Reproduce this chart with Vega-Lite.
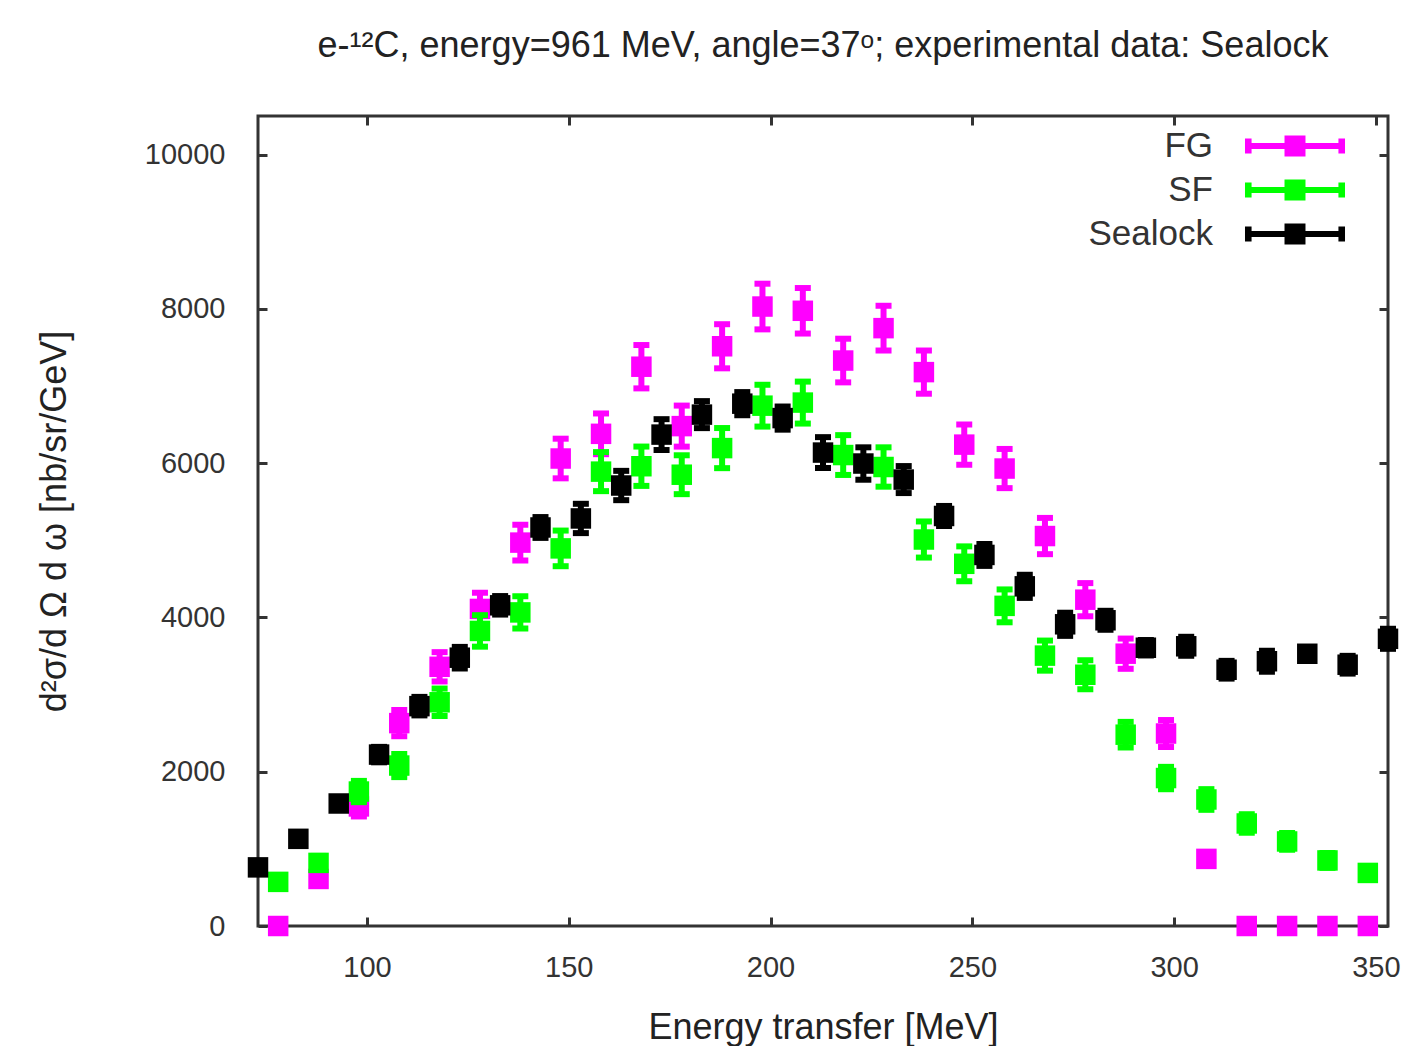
{
  "$schema": "https://vega.github.io/schema/vega-lite/v6.json",
  "width": 1130,
  "height": 810,
  "autosize": {"type": "none"},
  "padding": {"left": 258, "top": 116, "right": 20, "bottom": 120},
  "background": "white",
  "title": {
    "text": "e-¹²C, energy=961 MeV, angle=37ᵒ; experimental data: Sealock",
    "fontSize": 36,
    "font": "Liberation Sans",
    "fontWeight": "normal",
    "color": "#222222",
    "anchor": "middle",
    "baseline": "alphabetic",
    "offset": 22
  },
  "config": {
    "font": "Liberation Sans",
    "view": {"stroke": "#333333", "strokeWidth": 3}
  },
  "datasets": {
    "d": [
      {"s": "FG", "x": 78, "v": 0, "lo": 0, "hi": 0},
      {"s": "FG", "x": 88, "v": 610, "lo": 528, "hi": 692},
      {"s": "FG", "x": 98, "v": 1550, "lo": 1420, "hi": 1680},
      {"s": "FG", "x": 108, "v": 2630, "lo": 2460, "hi": 2800},
      {"s": "FG", "x": 118, "v": 3360, "lo": 3170, "hi": 3550},
      {"s": "FG", "x": 128, "v": 4110, "lo": 3900, "hi": 4320},
      {"s": "FG", "x": 138, "v": 4970, "lo": 4738, "hi": 5202},
      {"s": "FG", "x": 148, "v": 6060, "lo": 5803, "hi": 6317},
      {"s": "FG", "x": 158, "v": 6380, "lo": 6116, "hi": 6644},
      {"s": "FG", "x": 168, "v": 7250, "lo": 6969, "hi": 7531},
      {"s": "FG", "x": 178, "v": 6480, "lo": 6214, "hi": 6746},
      {"s": "FG", "x": 188, "v": 7515, "lo": 7229, "hi": 7801},
      {"s": "FG", "x": 198, "v": 8030, "lo": 7734, "hi": 8326},
      {"s": "FG", "x": 208, "v": 7975, "lo": 7680, "hi": 8270},
      {"s": "FG", "x": 218, "v": 7330, "lo": 7047, "hi": 7613},
      {"s": "FG", "x": 228, "v": 7750, "lo": 7460, "hi": 8040},
      {"s": "FG", "x": 238, "v": 7180, "lo": 6900, "hi": 7460},
      {"s": "FG", "x": 248, "v": 6240, "lo": 5979, "hi": 6501},
      {"s": "FG", "x": 258, "v": 5930, "lo": 5676, "hi": 6184},
      {"s": "FG", "x": 268, "v": 5055, "lo": 4820, "hi": 5290},
      {"s": "FG", "x": 278, "v": 4230, "lo": 4015, "hi": 4445},
      {"s": "FG", "x": 288, "v": 3530, "lo": 3334, "hi": 3726},
      {"s": "FG", "x": 298, "v": 2495, "lo": 2320, "hi": 2670},
      {"s": "FG", "x": 308, "v": 870, "lo": 810, "hi": 930},
      {"s": "FG", "x": 318, "v": 0, "lo": 0, "hi": 0},
      {"s": "FG", "x": 328, "v": 0, "lo": 0, "hi": 0},
      {"s": "FG", "x": 338, "v": 0, "lo": 0, "hi": 0},
      {"s": "FG", "x": 348, "v": 0, "lo": 0, "hi": 0},
      {"s": "SF", "x": 78, "v": 572, "lo": 512, "hi": 632},
      {"s": "SF", "x": 88, "v": 818, "lo": 728, "hi": 908},
      {"s": "SF", "x": 98, "v": 1743, "lo": 1605, "hi": 1881},
      {"s": "SF", "x": 108, "v": 2080, "lo": 1930, "hi": 2230},
      {"s": "SF", "x": 118, "v": 2900, "lo": 2722, "hi": 3078},
      {"s": "SF", "x": 128, "v": 3825, "lo": 3621, "hi": 4029},
      {"s": "SF", "x": 138, "v": 4065, "lo": 3855, "hi": 4275},
      {"s": "SF", "x": 148, "v": 4895, "lo": 4664, "hi": 5126},
      {"s": "SF", "x": 158, "v": 5890, "lo": 5637, "hi": 6143},
      {"s": "SF", "x": 168, "v": 5960, "lo": 5705, "hi": 6215},
      {"s": "SF", "x": 178, "v": 5850, "lo": 5598, "hi": 6102},
      {"s": "SF", "x": 188, "v": 6195, "lo": 5935, "hi": 6455},
      {"s": "SF", "x": 198, "v": 6745, "lo": 6474, "hi": 7016},
      {"s": "SF", "x": 208, "v": 6785, "lo": 6513, "hi": 7057},
      {"s": "SF", "x": 218, "v": 6105, "lo": 5847, "hi": 6363},
      {"s": "SF", "x": 228, "v": 5950, "lo": 5695, "hi": 6205},
      {"s": "SF", "x": 238, "v": 5010, "lo": 4776, "hi": 5244},
      {"s": "SF", "x": 248, "v": 4695, "lo": 4469, "hi": 4921},
      {"s": "SF", "x": 258, "v": 4150, "lo": 3937, "hi": 4363},
      {"s": "SF", "x": 268, "v": 3505, "lo": 3310, "hi": 3700},
      {"s": "SF", "x": 278, "v": 3257, "lo": 3069, "hi": 3445},
      {"s": "SF", "x": 288, "v": 2480, "lo": 2314, "hi": 2646},
      {"s": "SF", "x": 298, "v": 1918, "lo": 1773, "hi": 2063},
      {"s": "SF", "x": 308, "v": 1640, "lo": 1506, "hi": 1774},
      {"s": "SF", "x": 318, "v": 1329, "lo": 1209, "hi": 1449},
      {"s": "SF", "x": 328, "v": 1096, "lo": 987, "hi": 1205},
      {"s": "SF", "x": 338, "v": 850, "lo": 754, "hi": 946},
      {"s": "SF", "x": 348, "v": 688, "lo": 613, "hi": 763},
      {"s": "Sealock", "x": 73, "v": 760, "lo": 720, "hi": 800},
      {"s": "Sealock", "x": 83, "v": 1130, "lo": 1080, "hi": 1180},
      {"s": "Sealock", "x": 93, "v": 1588, "lo": 1528, "hi": 1648},
      {"s": "Sealock", "x": 103, "v": 2222, "lo": 2122, "hi": 2322},
      {"s": "Sealock", "x": 113, "v": 2850, "lo": 2730, "hi": 2970},
      {"s": "Sealock", "x": 123, "v": 3478, "lo": 3338, "hi": 3618},
      {"s": "Sealock", "x": 133, "v": 4157, "lo": 4037, "hi": 4277},
      {"s": "Sealock", "x": 143, "v": 5166, "lo": 5031, "hi": 5301},
      {"s": "Sealock", "x": 153, "v": 5283, "lo": 5093, "hi": 5473},
      {"s": "Sealock", "x": 163, "v": 5710, "lo": 5520, "hi": 5900},
      {"s": "Sealock", "x": 173, "v": 6370, "lo": 6170, "hi": 6570},
      {"s": "Sealock", "x": 183, "v": 6629, "lo": 6454, "hi": 6804},
      {"s": "Sealock", "x": 193, "v": 6771, "lo": 6621, "hi": 6921},
      {"s": "Sealock", "x": 203, "v": 6584, "lo": 6434, "hi": 6734},
      {"s": "Sealock", "x": 213, "v": 6137, "lo": 5937, "hi": 6337},
      {"s": "Sealock", "x": 223, "v": 5995, "lo": 5785, "hi": 6205},
      {"s": "Sealock", "x": 233, "v": 5787, "lo": 5612, "hi": 5962},
      {"s": "Sealock", "x": 243, "v": 5315, "lo": 5185, "hi": 5445},
      {"s": "Sealock", "x": 253, "v": 4810, "lo": 4668, "hi": 4952},
      {"s": "Sealock", "x": 263, "v": 4403, "lo": 4253, "hi": 4553},
      {"s": "Sealock", "x": 273, "v": 3911, "lo": 3761, "hi": 4061},
      {"s": "Sealock", "x": 283, "v": 3963, "lo": 3840, "hi": 4086},
      {"s": "Sealock", "x": 293, "v": 3607, "lo": 3507, "hi": 3707},
      {"s": "Sealock", "x": 303, "v": 3626, "lo": 3503, "hi": 3749},
      {"s": "Sealock", "x": 313, "v": 3322, "lo": 3207, "hi": 3437},
      {"s": "Sealock", "x": 323, "v": 3432, "lo": 3296, "hi": 3568},
      {"s": "Sealock", "x": 333, "v": 3529, "lo": 3469, "hi": 3589},
      {"s": "Sealock", "x": 343, "v": 3387, "lo": 3272, "hi": 3502},
      {"s": "Sealock", "x": 353, "v": 3723, "lo": 3593, "hi": 3853}
    ]
  },
  "data": {"name": "d"},
  "layer": [
    {
      "encoding": {
        "x": {
          "field": "x", "type": "quantitative",
          "scale": {"domain": [73, 353], "nice": false, "zero": false},
          "title": "Energy transfer [MeV]",
          "axis": {
            "orient": "bottom", "values": [100, 150, 200, 250, 300, 350], "format": "d",
            "domain": false, "grid": false,
            "tickSize": -9, "tickWidth": 3, "tickColor": "#333333",
            "labelFontSize": 29, "labelColor": "#333333", "labelPadding": 36, "labelFlush": false,
            "titleFontSize": 36, "titleFontWeight": "normal", "titleColor": "#222222", "titlePadding": 28
          }
        },
        "y": {
          "field": "v", "type": "quantitative",
          "scale": {"domain": [0, 10500], "nice": false, "zero": false},
          "title": "d²σ/d Ω d ω  [nb/sr/GeV]",
          "axis": {
            "orient": "left", "values": [0, 2000, 4000, 6000, 8000, 10000], "format": "d",
            "domain": false, "grid": false,
            "tickSize": -9, "tickWidth": 3, "tickColor": "#333333",
            "labelFontSize": 29, "labelColor": "#333333", "labelPadding": 42, "labelFlush": false,
            "titleFontSize": 36, "titleFontWeight": "normal", "titleColor": "#222222", "titlePadding": 71
          }
        }
      },
      "layer": [
        {
          "transform": [{"filter": "datum.s === 'FG'"}],
          "layer": [
            {"mark": {"type": "rule", "color": "#ff00ff", "strokeWidth": 6},
             "encoding": {"y": {"field": "lo", "type": "quantitative", "title": "d²σ/d Ω d ω  [nb/sr/GeV]"}, "y2": {"field": "hi"}}},
            {"mark": {"type": "tick", "orient": "horizontal", "color": "#ff00ff", "size": 16, "thickness": 6, "opacity": 1},
             "encoding": {"y": {"field": "lo", "type": "quantitative", "title": "d²σ/d Ω d ω  [nb/sr/GeV]"}}},
            {"mark": {"type": "tick", "orient": "horizontal", "color": "#ff00ff", "size": 16, "thickness": 6, "opacity": 1},
             "encoding": {"y": {"field": "hi", "type": "quantitative", "title": "d²σ/d Ω d ω  [nb/sr/GeV]"}}},
            {"mark": {"type": "point", "shape": "square", "filled": true, "size": 420, "opacity": 1},
             "encoding": {
               "color": {
                 "field": "s", "type": "nominal",
                 "scale": {"domain": ["FG", "SF", "Sealock"], "range": ["#ff00ff", "#00ff00", "#000000"]},
                 "legend": {
                   "orient": "none", "legendX": 1015.5, "legendY": 8.5, "padding": 0,
                   "title": null,
                   "symbolType": "M-0.488,-0.488H0.488V0.488H-0.488Z M-2.2,-0.14H2.2V0.14H-2.2Z M-2.326,-0.35H-2.02V0.35H-2.326Z M2.02,-0.35H2.326V0.35H2.02Z",
                   "symbolSize": 1849, "symbolStrokeWidth": 0, "symbolOpacity": 1,
                   "labelFontSize": 35, "labelColor": "#333333", "labelAlign": "right", "labelOffset": -103.5,
                   "rowPadding": 4
                 }
               }
             }}
          ]
        },
        {
          "transform": [{"filter": "datum.s === 'SF'"}],
          "layer": [
            {"mark": {"type": "rule", "color": "#00ff00", "strokeWidth": 6},
             "encoding": {"y": {"field": "lo", "type": "quantitative", "title": "d²σ/d Ω d ω  [nb/sr/GeV]"}, "y2": {"field": "hi"}}},
            {"mark": {"type": "tick", "orient": "horizontal", "color": "#00ff00", "size": 16, "thickness": 6, "opacity": 1},
             "encoding": {"y": {"field": "lo", "type": "quantitative", "title": "d²σ/d Ω d ω  [nb/sr/GeV]"}}},
            {"mark": {"type": "tick", "orient": "horizontal", "color": "#00ff00", "size": 16, "thickness": 6, "opacity": 1},
             "encoding": {"y": {"field": "hi", "type": "quantitative", "title": "d²σ/d Ω d ω  [nb/sr/GeV]"}}},
            {"mark": {"type": "point", "shape": "square", "filled": true, "size": 420, "opacity": 1},
             "encoding": {"color": {"field": "s", "type": "nominal"}}}
          ]
        },
        {
          "transform": [{"filter": "datum.s === 'Sealock'"}],
          "layer": [
            {"mark": {"type": "rule", "color": "#000000", "strokeWidth": 6},
             "encoding": {"y": {"field": "lo", "type": "quantitative", "title": "d²σ/d Ω d ω  [nb/sr/GeV]"}, "y2": {"field": "hi"}}},
            {"mark": {"type": "tick", "orient": "horizontal", "color": "#000000", "size": 16, "thickness": 6, "opacity": 1},
             "encoding": {"y": {"field": "lo", "type": "quantitative", "title": "d²σ/d Ω d ω  [nb/sr/GeV]"}}},
            {"mark": {"type": "tick", "orient": "horizontal", "color": "#000000", "size": 16, "thickness": 6, "opacity": 1},
             "encoding": {"y": {"field": "hi", "type": "quantitative", "title": "d²σ/d Ω d ω  [nb/sr/GeV]"}}},
            {"mark": {"type": "point", "shape": "square", "filled": true, "size": 420, "opacity": 1},
             "encoding": {"color": {"field": "s", "type": "nominal"}}}
          ]
        }
      ]
    },
    {
      "mark": {"type": "point", "opacity": 0},
      "encoding": {
        "x": {
          "field": "x", "type": "quantitative",
          "axis": {"orient": "top", "values": [100, 150, 200, 250, 300, 350], "domain": false, "grid": false, "labels": false, "title": null,
                   "tickSize": -9, "tickWidth": 3, "tickColor": "#333333"}
        },
        "y": {
          "field": "v", "type": "quantitative",
          "axis": {"orient": "right", "values": [0, 2000, 4000, 6000, 8000, 10000], "domain": false, "grid": false, "labels": false, "title": null,
                   "tickSize": -9, "tickWidth": 3, "tickColor": "#333333"}
        }
      }
    }
  ],
  "resolve": {"axis": {"x": "independent", "y": "independent"}}
}
